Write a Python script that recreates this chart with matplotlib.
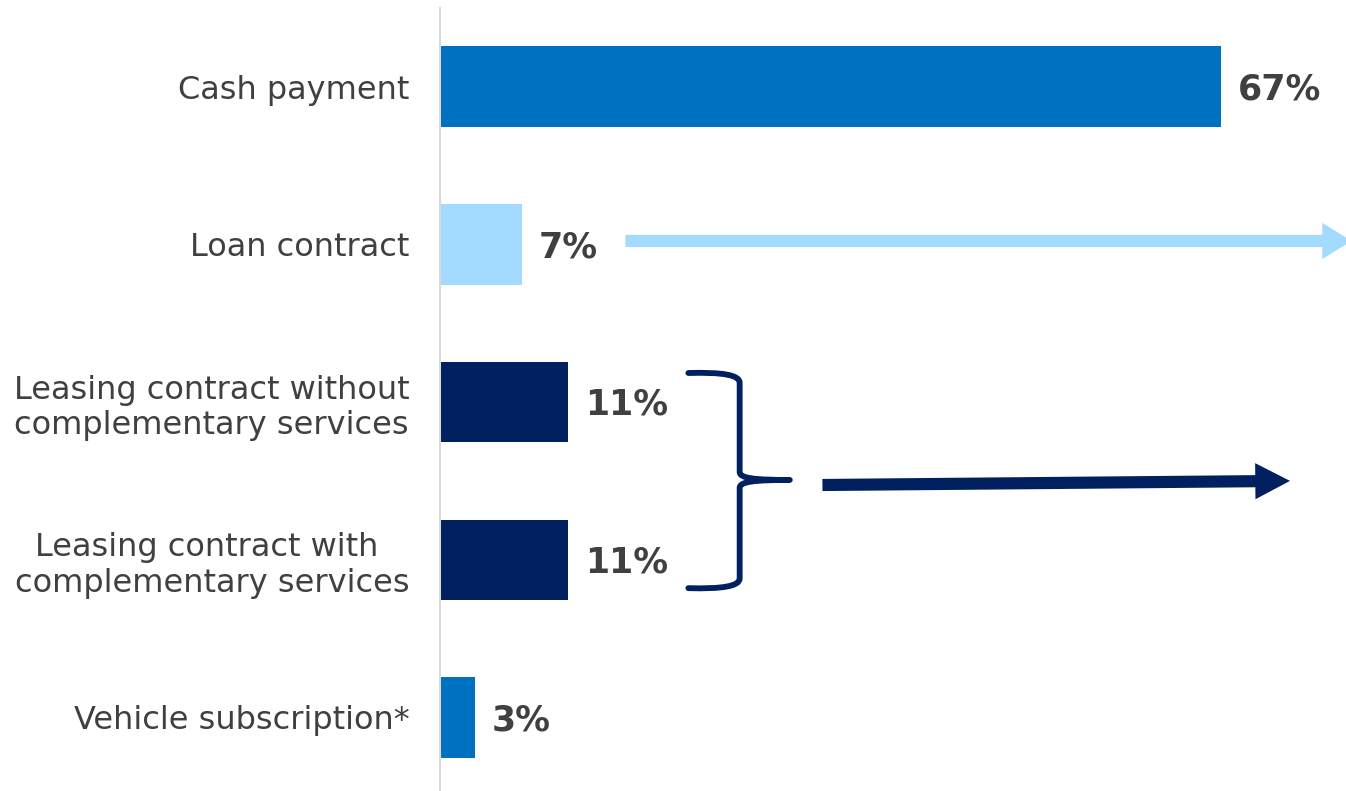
import matplotlib.pyplot as plt
from matplotlib.path import Path
from matplotlib.patches import PathPatch

# payment types and shares (%)
categories = [
    "Cash payment",
    "Loan contract",
    "Leasing contract without\ncomplementary services",
    "Leasing contract with \ncomplementary services",
    "Vehicle subscription*",
]
shares = [67, 7, 11, 11, 3]
bar_colors = ["#0070C0", "#A3DAFF", "#002060", "#002060", "#0070C0"]

text_grey = "#404040"
dark_blue = "#002060"
light_blue = "#A3DAFF"

fig = plt.figure(figsize=(13.46, 7.91), dpi=100)
ax = fig.add_axes([440 / 1346, 0, 1 - 440 / 1346, 1 - 8 / 791])

ypos = list(range(len(categories)))
ax.barh(ypos, shares, height=0.51, color=bar_colors)

for y, v in zip(ypos, shares):
    ax.annotate(f"{v}%", (v, y), xytext=(12, -2), textcoords="offset points",
                ha="left", va="center", fontsize=25, fontweight="bold",
                color=text_grey)

ax.set_xlim(0, 906 / 11.66)
ax.set_ylim(4.466, -0.498)
ax.set_yticks(ypos)
ax.set_yticklabels(categories, fontsize=23, color=text_grey)
for lab in ax.get_yticklabels():
    lab.set_multialignment("center")
ax.tick_params(axis="y", length=0, pad=22)
ax.set_xticks([])
for side in ["top", "right", "bottom"]:
    ax.spines[side].set_visible(False)
ax.spines["left"].set_color("#D9D9D9")
ax.spines["left"].set_linewidth(1.5)

# arrow out of the loan bar
ax.annotate("", xy=(78.2, 0.979), xytext=(15.9, 0.979),
            arrowprops=dict(arrowstyle="simple,tail_width=0.35,head_width=1.04,head_length=0.85",
                            mutation_scale=25, fc=light_blue, ec="none",
                            shrinkA=0, shrinkB=0),
            annotation_clip=False)

# brace grouping the two leasing bars
top, mid, bot = 1.816, 2.494, 3.18
xl, xc, xr = 21.3, 25.7, 30.0
verts = [
    (xl, top), (xc, top - 0.01), (xc, top + 0.06),
    (xc, mid - 0.05),
    (xc, mid - 0.01), (xr - 3.0, mid), (xr, mid),
    (xr - 3.0, mid), (xc, mid + 0.01), (xc, mid + 0.05),
    (xc, bot - 0.06),
    (xc, bot + 0.01), (xl, bot),
]
codes = [Path.MOVETO, Path.CURVE3, Path.CURVE3,
         Path.LINETO,
         Path.CURVE4, Path.CURVE4, Path.CURVE4,
         Path.CURVE4, Path.CURVE4, Path.CURVE4,
         Path.LINETO,
         Path.CURVE3, Path.CURVE3]
ax.add_patch(PathPatch(Path(verts, codes), fill=False, edgecolor=dark_blue,
                       lw=4.2, capstyle="round", joinstyle="round"))

# arrow out of the brace
ax.annotate("", xy=(72.9, 2.50), xytext=(32.8, 2.526),
            arrowprops=dict(arrowstyle="simple,tail_width=0.35,head_width=1.04,head_length=1.0",
                            mutation_scale=25, fc=dark_blue, ec="none",
                            shrinkA=0, shrinkB=0),
            annotation_clip=False)

fig.savefig("out.png", dpi=100)
